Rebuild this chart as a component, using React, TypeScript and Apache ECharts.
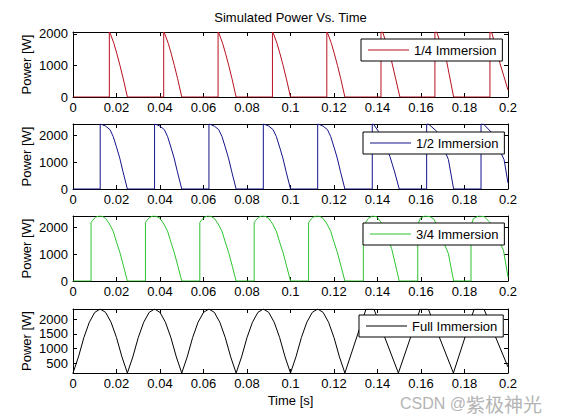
import React, { useEffect, useRef } from "react";
import * as echarts from "echarts";

const FONT = '"Liberation Sans", Arial, Helvetica, sans-serif';

const titleText = "Simulated Power Vs. Time";
const xAxisName = "Time [s]";
const yAxisName = "Power [W]";
const watermarkLatin = "CSDN @";
const watermarkCJK = "紫极神光";
const seriesNames = ["1/4 Immersion", "1/2 Immersion", "3/4 Immersion", "Full Immersion"];
const seriesColors = ["#b81020", "#14148c", "#2ec42e", "#000000"];
const yMins = [0, 0, 0, 180];
const yMaxs = [2060, 2420, 2420, 2340];
const yTickValues = [
  [0, 1000, 2000],
  [0, 1000, 2000],
  [0, 1000, 2000],
  [500, 1000, 1500, 2000],
];
const xMin = 0;
const xMax = 0.2;
const xStep = 0.02;

const quarterImmersion: [number, number][] = [
  [0, 0], [0.0167, 0], [0.0167, 2060], [0.0172, 2000], [0.0188, 1700], [0.0201, 1390], [0.0216, 1000], [0.0231, 580], [0.025, 0],
  [0.0417, 0], [0.0417, 2060], [0.0422, 2000], [0.0438, 1700], [0.0451, 1390], [0.0466, 1000], [0.0481, 580], [0.05, 0],
  [0.0667, 0], [0.0667, 2060], [0.0672, 2000], [0.0688, 1700], [0.0701, 1390], [0.0716, 1000], [0.0731, 580], [0.075, 0],
  [0.0917, 0], [0.0917, 2060], [0.0922, 2000], [0.0938, 1700], [0.0951, 1390], [0.0966, 1000], [0.0981, 580], [0.1, 0],
  [0.1167, 0], [0.1167, 2060], [0.1172, 2000], [0.1188, 1700], [0.1201, 1390], [0.1216, 1000], [0.1231, 580], [0.125, 0],
  [0.1416, 0], [0.1416, 2060], [0.1424, 2060], [0.1465, 1130], [0.1503, 0],
  [0.1664, 0], [0.1664, 2060], [0.1672, 2060], [0.1718, 1130], [0.175, 0],
  [0.1917, 0], [0.1917, 2060], [0.1926, 2030], [0.1963, 1070], [0.2, 220],
];

const halfImmersion: [number, number][] = [
  [0, 0], [0.0125, 0], [0.0125, 2420], [0.0133, 2400], [0.015, 2340], [0.017, 2210], [0.0185, 1950], [0.02, 1560], [0.0215, 1150], [0.023, 640], [0.025, 0],
  [0.0375, 0], [0.0375, 2420], [0.0383, 2400], [0.04, 2340], [0.042, 2210], [0.0435, 1950], [0.045, 1560], [0.0465, 1150], [0.048, 640], [0.05, 0],
  [0.0625, 0], [0.0625, 2420], [0.0633, 2400], [0.065, 2340], [0.067, 2210], [0.0685, 1950], [0.07, 1560], [0.0715, 1150], [0.073, 640], [0.075, 0],
  [0.0875, 0], [0.0875, 2420], [0.0883, 2400], [0.09, 2340], [0.092, 2210], [0.0935, 1950], [0.095, 1560], [0.0965, 1150], [0.098, 640], [0.1, 0],
  [0.1125, 0], [0.1125, 2420], [0.1133, 2400], [0.115, 2340], [0.117, 2210], [0.1185, 1950], [0.12, 1560], [0.1215, 1150], [0.123, 640], [0.125, 0],
  [0.1376, 0], [0.1376, 2420], [0.1381, 2420], [0.1404, 2150], [0.1457, 1216], [0.148, 600], [0.15, 0],
  [0.1626, 0], [0.1626, 2420], [0.1634, 2420], [0.1672, 2150], [0.1726, 1100], [0.175, 0],
  [0.1876, 0], [0.1876, 2420], [0.1887, 2420], [0.1925, 2100], [0.1982, 1090], [0.2, 220],
];

const threeQuarterImmersion: [number, number][] = [
  [0, 0], [0.0083, 0], [0.0083, 2170], [0.009, 2260], [0.0103, 2370], [0.0118, 2420], [0.0133, 2410], [0.015, 2330], [0.0168, 2120], [0.0185, 1850], [0.02, 1450], [0.0216, 1050], [0.0233, 530], [0.025, 0],
  [0.0333, 0], [0.0333, 2170], [0.034, 2260], [0.0353, 2370], [0.0368, 2420], [0.0383, 2410], [0.04, 2330], [0.0418, 2120], [0.0435, 1850], [0.045, 1450], [0.0466, 1050], [0.0483, 530], [0.05, 0],
  [0.0583, 0], [0.0583, 2170], [0.059, 2260], [0.0603, 2370], [0.0618, 2420], [0.0633, 2410], [0.065, 2330], [0.0668, 2120], [0.0685, 1850], [0.07, 1450], [0.0716, 1050], [0.0733, 530], [0.075, 0],
  [0.0833, 0], [0.0833, 2170], [0.084, 2260], [0.0853, 2370], [0.0868, 2420], [0.0883, 2410], [0.09, 2330], [0.0918, 2120], [0.0935, 1850], [0.095, 1450], [0.0966, 1050], [0.0983, 530], [0.1, 0],
  [0.1083, 0], [0.1083, 2170], [0.109, 2260], [0.1103, 2370], [0.1118, 2420], [0.1133, 2410], [0.115, 2330], [0.1168, 2120], [0.1185, 1850], [0.12, 1450], [0.1216, 1050], [0.1233, 530], [0.125, 0],
  [0.1335, 0], [0.1335, 2050], [0.1358, 2330], [0.1375, 2420], [0.1395, 2400], [0.142, 2150], [0.1465, 1210], [0.15, 0],
  [0.1585, 0], [0.1585, 2080], [0.1597, 2340], [0.1618, 2420], [0.164, 2400], [0.166, 2300], [0.1726, 1020], [0.175, 0],
  [0.183, 0], [0.183, 2080], [0.1842, 2330], [0.1865, 2420], [0.189, 2400], [0.1915, 2200], [0.1979, 1150], [0.2, 150],
];

const fullImmersion: [number, number][] = [
  [0, 180], [0.0025, 723], [0.005, 1376], [0.0075, 1893], [0.01, 2225], [0.0125, 2340], [0.015, 2225], [0.0175, 1893], [0.02, 1376], [0.0225, 723], [0.025, 180],
  [0.0275, 723], [0.03, 1376], [0.0325, 1893], [0.035, 2225], [0.0375, 2340], [0.04, 2225], [0.0425, 1893], [0.045, 1376], [0.0475, 723], [0.05, 180],
  [0.0525, 723], [0.055, 1376], [0.0575, 1893], [0.06, 2225], [0.0625, 2340], [0.065, 2225], [0.0675, 1893], [0.07, 1376], [0.0725, 723], [0.075, 180],
  [0.0775, 723], [0.08, 1376], [0.0825, 1893], [0.085, 2225], [0.0875, 2340], [0.09, 2225], [0.0925, 1893], [0.095, 1376], [0.0975, 723], [0.1, 180],
  [0.1025, 723], [0.105, 1376], [0.1075, 1893], [0.11, 2225], [0.1125, 2340], [0.115, 2225], [0.1175, 1893], [0.12, 1376], [0.1225, 723], [0.125, 180],
  [0.1347, 2330], [0.1384, 2330], [0.1496, 180],
  [0.1596, 2330], [0.1634, 2330], [0.1749, 180],
  [0.1844, 2330], [0.189, 2330], [0.2, 380],
];

const seriesData = [quarterImmersion, halfImmersion, threeQuarterImmersion, fullImmersion];

// layout
const gridLeft = 73;
const gridWidth = 435;
const gridTops = [32, 124, 216, 309];
const gridHeights = [65, 65, 65, 64];
const legendPos = [
  { left: 361, top: 39 },
  { left: 363, top: 132 },
  { left: 363, top: 223 },
  { left: 359, top: 315 },
];

export default function App() {
  const ref = useRef<HTMLDivElement>(null);

  useEffect(() => {
    if (!ref.current) return;
    const chart = echarts.init(ref.current, null, { renderer: "svg" });

    const labelStyle = { color: "#000", fontSize: 13, fontFamily: FONT };
    const lineAx = { show: true, onZero: false, lineStyle: { color: "#000", width: 1 } };
    const grids: any[] = [];
    const xAxes: any[] = [];
    const yAxes: any[] = [];
    const series: any[] = [];
    const legends: any[] = [];

    seriesNames.forEach((name, i) => {
      const isLast = i === seriesNames.length - 1;
      grids.push({ left: gridLeft, top: gridTops[i], width: gridWidth, height: gridHeights[i] });
      xAxes.push({
        type: "value",
        gridIndex: i,
        min: xMin,
        max: xMax,
        interval: xStep,
        position: "bottom",
        axisLine: lineAx,
        axisTick: { show: true, inside: true, length: 4, lineStyle: { color: "#000", width: 1 } },
        axisLabel: {
          show: true,
          margin: 4,
          ...labelStyle,
          formatter: (v: number) => String(Math.round(v * 100) / 100),
        },
        splitLine: { show: false },
        name: isLast ? xAxisName : "",
        nameLocation: "middle",
        nameGap: 21,
        nameMoveOverlap: false,
        nameTextStyle: labelStyle,
      });
      xAxes.push({
        type: "value",
        gridIndex: i,
        min: xMin,
        max: xMax,
        interval: xStep,
        position: "top",
        axisLine: lineAx,
        axisTick: { show: true, inside: true, length: 4, lineStyle: { color: "#000", width: 1 } },
        axisLabel: { show: false },
        splitLine: { show: false },
      });
      yAxes.push({
        type: "value",
        gridIndex: i,
        min: yMins[i],
        max: yMaxs[i],
        position: "left",
        axisLine: lineAx,
        axisTick: {
          show: true,
          inside: true,
          length: 4,
          customValues: yTickValues[i],
          lineStyle: { color: "#000", width: 1 },
        },
        axisLabel: {
          show: true,
          margin: 5,
          customValues: yTickValues[i],
          ...labelStyle,
          formatter: (v: number) => String(Math.round(v)),
        },
        splitLine: { show: false },
        name: yAxisName,
        nameLocation: "middle",
        nameGap: 40,
        nameMoveOverlap: false,
        nameTextStyle: labelStyle,
      });
      yAxes.push({
        type: "value",
        gridIndex: i,
        min: yMins[i],
        max: yMaxs[i],
        position: "right",
        axisLine: lineAx,
        axisTick: {
          show: true,
          inside: true,
          length: 4,
          customValues: yTickValues[i],
          lineStyle: { color: "#000", width: 1 },
        },
        axisLabel: { show: false },
        splitLine: { show: false },
      });
      series.push({
        type: "line",
        name,
        xAxisIndex: 2 * i,
        yAxisIndex: 2 * i,
        data: seriesData[i],
        symbol: "none",
        showSymbol: false,
        clip: true,
        silent: true,
        color: seriesColors[i],
        lineStyle: { color: seriesColors[i], width: 1 },
        itemStyle: { color: seriesColors[i] },
        z: 2,
      });
      legends.push({
        data: [name],
        left: legendPos[i].left,
        top: legendPos[i].top,
        orient: "horizontal",
        icon: "rect",
        itemWidth: 41,
        itemHeight: 1,
        itemGap: 0,
        padding: [4, 6, 4, 7],
        borderColor: "#000",
        borderWidth: 1,
        borderRadius: 0,
        backgroundColor: "#fff",
        selectedMode: false,
        textStyle: { ...labelStyle, lineHeight: 14 },
        z: 10,
      });
    });

    chart.setOption({
      animation: false,
      backgroundColor: "#fff",
      grid: grids,
      xAxis: xAxes,
      yAxis: yAxes,
      series,
      legend: legends,
      graphic: [
        {
          type: "text",
          x: 290.5,
          y: 17,
          style: {
            text: titleText,
            fill: "#000",
            font: `13px ${FONT}`,
            align: "center",
            verticalAlign: "middle",
            textAlign: "center",
            textVerticalAlign: "middle",
          },
          z: 20,
        },
        {
          type: "text",
          x: 400,
          y: 403,
          style: {
            text: `{a|${watermarkLatin}}{b|${watermarkCJK}}`,
            fill: "#b4b4b4",
            align: "left",
            verticalAlign: "middle",
            textAlign: "left",
            textVerticalAlign: "middle",
            rich: {
              a: { fontSize: 16, lineHeight: 17, fontFamily: FONT, fill: "#b4b4b4", color: "#b4b4b4" },
              b: {
                fontSize: 19,
                lineHeight: 17,
                fontFamily: '"Noto Sans CJK SC", sans-serif',
                fill: "#b4b4b4",
                color: "#b4b4b4",
              },
            },
          },
          z: 20,
        },
      ],
    });

    return () => {
      chart.dispose();
    };
  }, []);

  return (
    <div
      ref={ref}
      style={{ position: "absolute", left: 0, top: 0, width: 561, height: 420, background: "#fff" }}
    />
  );
}
